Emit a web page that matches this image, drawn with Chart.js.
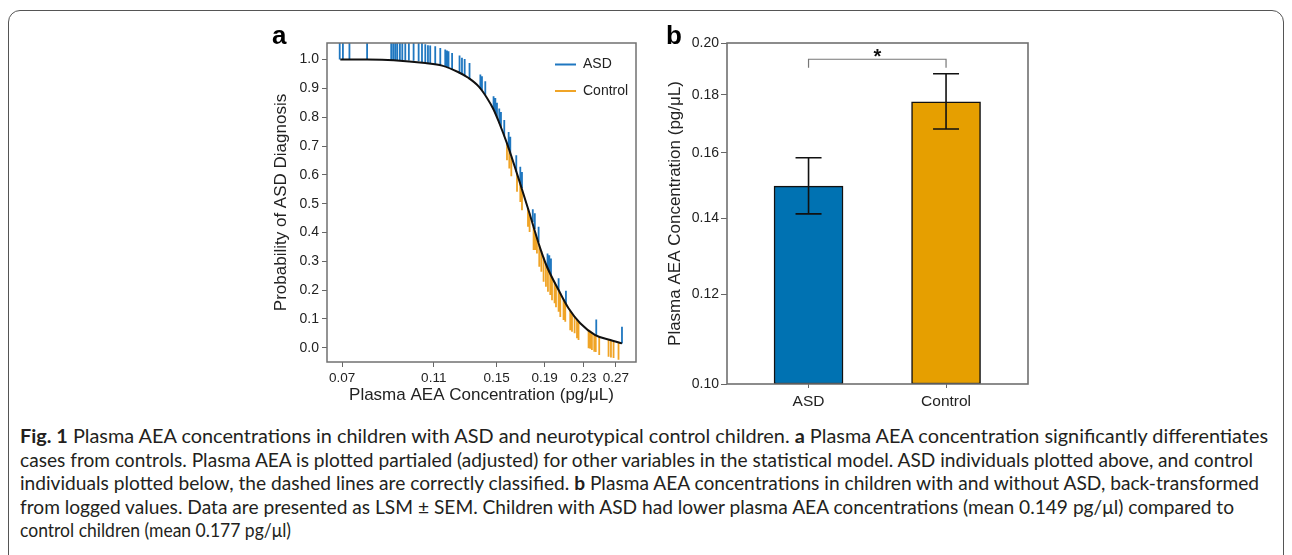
<!DOCTYPE html>
<html>
<head>
<meta charset="utf-8">
<script src="https://cdn.jsdelivr.net/npm/chart.js@4.4.0/dist/chart.umd.min.js"></script>
<style>
  html, body { margin: 0; padding: 0; background: #fff; }
  body { width: 1292px; height: 555px; position: relative; overflow: hidden; font-family: 'Liberation Sans', Arial, sans-serif; }
  .frame { position: absolute; left: 8px; top: 10px; width: 1274px; height: 620px; border: 1.5px solid #555; border-radius: 12px; }
  canvas { position: absolute; }
  #chartA { left: 262px; top: 26px; }
  #chartB { left: 655px; top: 26px; }
  .tag { position: absolute; font-weight: bold; font-size: 26px; line-height: 26px; color: #000; }
  .cap { position: absolute; left: 20px; height: 24px; line-height: 24px; width: 1400px; }
  .cap span { display: inline-block; white-space: pre; font-family: 'Lato', sans-serif; font-size: 18.5px; color: #231f20; transform-origin: 0 50%; }
</style>
</head>
<body>
<div class="frame"></div>
<canvas id="chartA" width="385" height="385"></canvas>
<canvas id="chartB" width="385" height="385"></canvas>
<div class="tag" style="left:272px; top:22px;">a</div>
<div class="tag" style="left:666px; top:22px;">b</div>
<div id="caption"></div>

<script>
// ---- panel a: fitted curve
const curveConc = [0.0694, 0.0792, 0.0903, 0.1055, 0.1146, 0.1243, 0.1306, 0.1372, 0.1430, 0.1477,
                   0.1514, 0.1578, 0.1671, 0.1755, 0.1859, 0.1922, 0.2035, 0.2137, 0.2264, 0.2438,
                   0.2625, 0.2781];
const curveProb = [1.000, 1.000, 0.998, 0.988, 0.979, 0.956, 0.936, 0.907, 0.867, 0.827,
                   0.786, 0.709, 0.587, 0.477, 0.345, 0.281, 0.200, 0.137, 0.085, 0.044,
                   0.027, 0.015];

// ASD individuals: concentration, fitted probability, end of the line
const asdConc = [0.0692, 0.0703, 0.0726, 0.0792, 0.0892, 0.0901, 0.0910, 0.0919, 0.0931, 0.0942,
                 0.0956, 0.0973, 0.0996, 0.1021, 0.1038, 0.1055, 0.1069, 0.1081, 0.1108, 0.1136,
                 0.1164, 0.1174, 0.1183, 0.1204, 0.1249, 0.1264, 0.1281, 0.1312, 0.1384, 0.1395,
                 0.1418, 0.1477, 0.1490, 0.1502, 0.1519, 0.1532, 0.1557, 0.1591, 0.1604, 0.1652,
                 0.1685, 0.1699, 0.1792, 0.1810, 0.1844, 0.1927, 0.1944, 0.1960, 0.2035, 0.2110,
                 0.2450, 0.2781];
const asdFit = [1.000, 1.000, 1.000, 1.000, 0.999, 0.998, 0.998, 0.998, 0.998, 0.997,
                0.997, 0.997, 0.996, 0.994, 0.991, 0.988, 0.987, 0.986, 0.983, 0.980,
                0.975, 0.973, 0.971, 0.966, 0.952, 0.947, 0.942, 0.932, 0.900, 0.894,
                0.878, 0.827, 0.814, 0.800, 0.779, 0.764, 0.734, 0.691, 0.673, 0.611,
                0.571, 0.554, 0.436, 0.412, 0.367, 0.275, 0.262, 0.250, 0.200, 0.153,
                0.044, 0.015];
const asdEnd = [1.07, 1.07, 1.07, 1.07, 1.07, 1.07, 1.07, 1.07, 1.07, 1.07,
                1.07, 1.07, 1.07, 1.07, 1.07, 1.053, 1.050, 1.049, 1.046, 1.040,
                1.035, 1.032, 1.029, 1.023, 1.014, 1.006, 1.002, 0.988, 0.948, 0.942,
                0.925, 0.873, 0.867, 0.850, 0.830, 0.818, 0.790, 0.749, 0.732, 0.668,
                0.628, 0.610, 0.481, 0.467, 0.420, 0.327, 0.321, 0.310, 0.241, 0.198,
                0.098, 0.073];

// Control individuals
const ctrlConc = [0.1578, 0.1596, 0.1612, 0.1658, 0.1685, 0.1699, 0.1750, 0.1764, 0.1799, 0.1814,
                  0.1829, 0.1850, 0.1869, 0.1890, 0.1912, 0.1931, 0.1953, 0.1970, 0.1995, 0.2009,
                  0.2035, 0.2052, 0.2085, 0.2103, 0.2155, 0.2174, 0.2202, 0.2228, 0.2245, 0.2359,
                  0.2379, 0.2398, 0.2426, 0.2444, 0.2486, 0.2603, 0.2634, 0.2668, 0.2734];
const ctrlFit = [0.709, 0.685, 0.664, 0.604, 0.569, 0.550, 0.484, 0.466, 0.421, 0.401,
                 0.382, 0.356, 0.336, 0.314, 0.291, 0.274, 0.258, 0.246, 0.228, 0.218,
                 0.200, 0.190, 0.169, 0.157, 0.128, 0.121, 0.109, 0.098, 0.091, 0.062,
                 0.059, 0.054, 0.047, 0.043, 0.039, 0.029, 0.026, 0.023, 0.018];
const ctrlEnd = [0.651, 0.622, 0.595, 0.541, 0.506, 0.477, 0.420, 0.402, 0.339, 0.339,
                 0.327, 0.281, 0.264, 0.229, 0.212, 0.194, 0.183, 0.165, 0.154, 0.140,
                 0.125, 0.107, 0.096, 0.090, 0.061, 0.055, 0.050, 0.033, 0.027, -0.002,
                 -0.004, -0.008, -0.014, -0.015, -0.025, -0.031, -0.034, -0.036, -0.042];

const xTicksA = [0.07, 0.11, 0.15, 0.19, 0.23, 0.27];
const yTicksA = [0.0, 0.1, 0.2, 0.3, 0.4, 0.5, 0.6, 0.7, 0.8, 0.9, 1.0];

// ---- panel b: least-squares means +/- SEM
const groups = ['ASD', 'Control'];
const groupPos = [1, 2];
const means = [0.1495, 0.1775];
const semLow = [0.1413, 0.1679];
const semHigh = [0.1584, 0.1879];
const yTicksB = [0.10, 0.12, 0.14, 0.16, 0.18, 0.20];
const bracketValue = 0.1935;
const bracketDrop = 0.1902;

const captionLines = [
  '<b>Fig. 1</b> Plasma AEA concentrations in children with ASD and neurotypical control children. <b>a</b> Plasma AEA concentration significantly differentiates',
  'cases from controls. Plasma AEA is plotted partialed (adjusted) for other variables in the statistical model. ASD individuals plotted above, and control',
  'individuals plotted below, the dashed lines are correctly classified. <b>b</b> Plasma AEA concentrations in children with and without ASD, back-transformed',
  'from logged values. Data are presented as LSM ± SEM. Children with ASD had lower plasma AEA concentrations (mean 0.149 pg/μl) compared to',
  'control children (mean 0.177 pg/μl)'
];
const captionWidths = [1248, 1233, 1239, 1214, 271];
const captionTops = [424, 447.5, 471, 494.5, 518];

const BLUE_A = '#1f77c0';
const ORANGE_A = '#f0a426';

Chart.defaults.font.family = '"Liberation Sans", Arial, sans-serif';
Chart.defaults.color = '#222';
Chart.defaults.animation = false;

function rugSegments(conc, fit, end) {
    const pts = [];
    conc.forEach((c, i) => {
        pts.push({ x: c, y: fit[i] });
        pts.push({ x: c, y: end[i] });
        pts.push({ x: c, y: null });
    });
    return pts;
}

const frameBox = {
    id: 'frameBox',
    afterDraw(chart, args, opts) {
        const { ctx, chartArea: a } = chart;
        ctx.save();
        ctx.strokeStyle = opts.color;
        ctx.lineWidth = opts.width;
        ctx.strokeRect(a.left, a.top, a.right - a.left, a.bottom - a.top);
        ctx.restore();
    }
};

const insideLegend = {
    id: 'insideLegend',
    afterDatasetsDraw(chart) {
        const { ctx, chartArea } = chart;
        const items = chart.data.datasets.filter(d => d.inLegend);
        ctx.save();
        ctx.font = '14px "Liberation Sans", Arial, sans-serif';
        ctx.textBaseline = 'middle';
        items.forEach((ds, i) => {
            const y = chartArea.top + 21.5 + i * 26.5;
            const x = chartArea.right - 81;
            ctx.strokeStyle = ds.borderColor;
            ctx.lineWidth = 2;
            ctx.beginPath();
            ctx.moveTo(x, y);
            ctx.lineTo(x + 21, y);
            ctx.stroke();
            ctx.fillStyle = '#222';
            ctx.fillText(ds.label, x + 28, y);
        });
        ctx.restore();
    }
};

const errorBars = {
    id: 'errorBars',
    afterDatasetsDraw(chart) {
        const { ctx, scales: { x, y } } = chart;
        ctx.save();
        ctx.strokeStyle = '#111';
        ctx.lineWidth = 1.6;
        groupPos.forEach((g, i) => {
            const px = x.getPixelForValue(g);
            const lo = y.getPixelForValue(semLow[i]);
            const hi = y.getPixelForValue(semHigh[i]);
            ctx.beginPath();
            ctx.moveTo(px, lo); ctx.lineTo(px, hi);
            ctx.moveTo(px - 13, lo); ctx.lineTo(px + 13, lo);
            ctx.moveTo(px - 13, hi); ctx.lineTo(px + 13, hi);
            ctx.stroke();
        });
        // significance bracket
        const x1 = x.getPixelForValue(groupPos[0]);
        const x2 = x.getPixelForValue(groupPos[1]);
        const yb = y.getPixelForValue(bracketValue);
        const yd = y.getPixelForValue(bracketDrop);
        ctx.strokeStyle = '#777';
        ctx.lineWidth = 1.2;
        ctx.beginPath();
        ctx.moveTo(x1, yd); ctx.lineTo(x1, yb); ctx.lineTo(x2, yb); ctx.lineTo(x2, yd);
        ctx.stroke();
        ctx.fillStyle = '#111';
        ctx.font = 'bold 20px "Liberation Sans", Arial, sans-serif';
        ctx.textAlign = 'center';
        ctx.textBaseline = 'alphabetic';
        ctx.fillText('*', (x1 + x2) / 2, yb + 4);
        ctx.restore();
    }
};

// Panel a
new Chart(document.getElementById('chartA'), {
    type: 'line',
    data: {
        datasets: [
            {
                label: 'Fit',
                data: curveConc.map((c, i) => ({ x: c, y: curveProb[i] })),
                borderColor: '#111',
                borderWidth: 2,
                pointRadius: 0,
                cubicInterpolationMode: 'monotone',
                order: 0
            },
            {
                label: 'ASD',
                inLegend: true,
                data: rugSegments(asdConc, asdFit, asdEnd),
                borderColor: BLUE_A,
                borderWidth: 1.8,
                pointRadius: 0,
                spanGaps: false,
                clip: 0,
                order: 1
            },
            {
                label: 'Control',
                inLegend: true,
                data: rugSegments(ctrlConc, ctrlFit, ctrlEnd),
                borderColor: ORANGE_A,
                borderWidth: 1.8,
                pointRadius: 0,
                spanGaps: false,
                clip: 0,
                order: 2
            }
        ]
    },
    options: {
        responsive: false,
        layout: { padding: { top: 17, right: 11, left: 0, bottom: 0 } },
        plugins: {
            legend: { display: false },
            tooltip: { enabled: false },
            frameBox: { color: '#707070', width: 1.5 }
        },
        scales: {
            x: {
                type: 'logarithmic',
                min: 0.065,
                max: 0.298,
                afterBuildTicks: axis => { axis.ticks = xTicksA.map(v => ({ value: v })); },
                afterFit: axis => { axis.height = 49; },
                grid: { display: true, drawOnChartArea: false, drawTicks: true, tickLength: 5, color: '#666' },
                border: { display: false },
                ticks: {
                    autoSkip: false, maxRotation: 0, padding: 3,
                    font: { size: 13.5 }, color: '#222',
                    callback: v => Number(v).toFixed(2)
                },
                title: {
                    display: true,
                    text: 'Plasma AEA Concentration (pg/μL)',
                    font: { size: 17 },
                    color: '#222',
                    padding: { top: 0, bottom: 5 }
                }
            },
            y: {
                type: 'linear',
                min: -0.0496,
                max: 1.0576,
                afterBuildTicks: axis => { axis.ticks = yTicksA.map(v => ({ value: v })); },
                afterFit: axis => { axis.width = 65; },
                grid: { display: true, drawOnChartArea: false, drawTicks: true, tickLength: 5, color: '#666' },
                border: { display: false },
                ticks: { padding: 3, font: { size: 14 }, color: '#222', callback: v => Number(v).toFixed(1) },
                title: {
                    display: true,
                    text: 'Probability of ASD Diagnosis',
                    font: { size: 17 },
                    color: '#222',
                    padding: { top: 9, bottom: 0 }
                }
            }
        }
    },
    plugins: [frameBox, insideLegend]
});

// Panel b
new Chart(document.getElementById('chartB'), {
    type: 'bar',
    data: {
        datasets: [{
            label: 'Plasma AEA',
            data: groupPos.map((g, i) => ({ x: g, y: means[i] })),
            backgroundColor: ['#0072B2', '#E69F00'],
            borderColor: '#111',
            borderWidth: 1.5,
            borderSkipped: false,
            barThickness: 69
        }]
    },
    options: {
        responsive: false,
        layout: { padding: { top: 17, right: 12, left: 0, bottom: 0 } },
        plugins: {
            legend: { display: false },
            tooltip: { enabled: false },
            frameBox: { color: '#707070', width: 1.6 }
        },
        scales: {
            x: {
                type: 'linear',
                offset: false,
                min: 0.407,
                max: 2.596,
                afterBuildTicks: axis => { axis.ticks = groupPos.map(v => ({ value: v })); },
                afterFit: axis => { axis.height = 27; },
                grid: { display: true, offset: false, drawOnChartArea: false, drawTicks: true, tickLength: 4, color: '#666' },
                border: { display: false },
                ticks: {
                    autoSkip: false, maxRotation: 0, padding: 4,
                    font: { size: 15.5 }, color: '#222',
                    callback: v => groups[groupPos.indexOf(v)] || ''
                }
            },
            y: {
                type: 'logarithmic',
                min: 0.1,
                max: 0.2,
                afterBuildTicks: axis => { axis.ticks = yTicksB.map(v => ({ value: v })); },
                afterFit: axis => { axis.width = 72; },
                grid: { display: true, drawOnChartArea: false, drawTicks: true, tickLength: 6, color: '#666' },
                border: { display: false },
                ticks: { padding: 2, font: { size: 14 }, color: '#222', callback: v => Number(v).toFixed(2) },
                title: {
                    display: true,
                    text: 'Plasma AEA Concentration (pg/μL)',
                    font: { size: 17 },
                    color: '#222',
                    padding: { top: 10, bottom: 0 }
                }
            }
        }
    },
    plugins: [frameBox, errorBars]
});

// Caption, one row per line, squeezed to the widths of the original
const capBox = document.getElementById('caption');
const capSpans = captionLines.map((html, i) => {
    const d = document.createElement('div');
    d.className = 'cap';
    d.style.top = captionTops[i] + 'px';
    const s = document.createElement('span');
    s.innerHTML = html;
    d.appendChild(s);
    capBox.appendChild(d);
    return s;
});
function fitCaption() {
    capSpans.forEach((s, i) => {
        s.style.transform = 'none';
        const w = s.getBoundingClientRect().width;
        s.style.transform = 'scaleX(' + (captionWidths[i] / w) + ')';
    });
}
fitCaption();
if (document.fonts && document.fonts.ready) document.fonts.ready.then(fitCaption);
</script>
</body>
</html>
